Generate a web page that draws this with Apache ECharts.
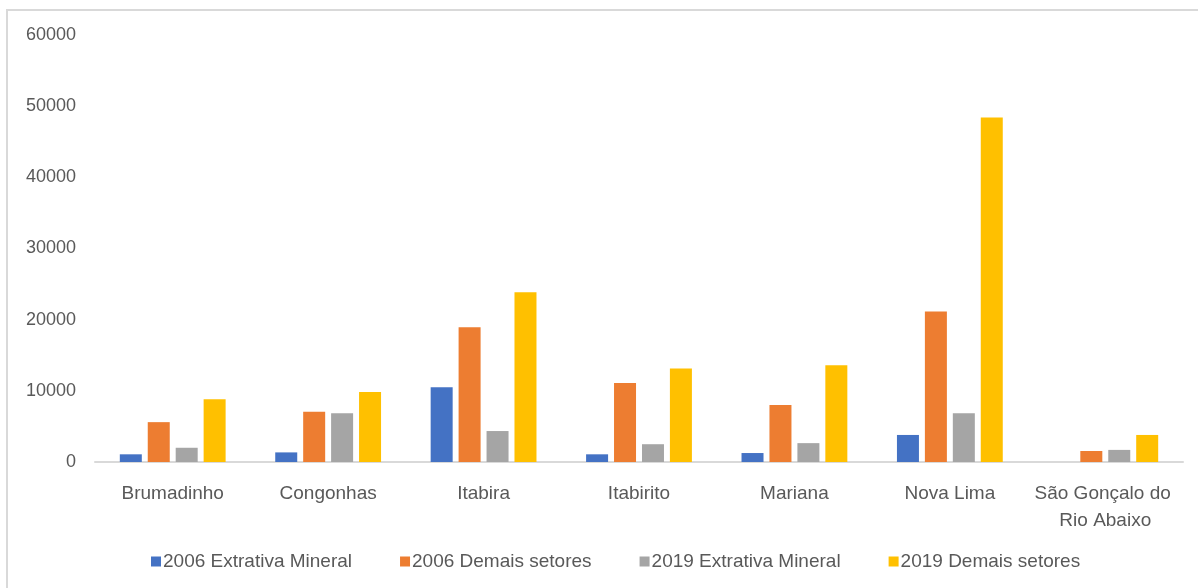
<!DOCTYPE html>
<html>
<head>
<meta charset="utf-8">
<script src="https://cdn.jsdelivr.net/npm/echarts@6/dist/echarts.min.js"></script>
<style>
  html, body { margin: 0; padding: 0; background: #fff; }
  #chart { width: 1198px; height: 588px; }
</style>
</head>
<body>
<div id="chart"></div>
<script>
// Municípios
const categories = ['Brumadinho', 'Congonhas', 'Itabira', 'Itabirito', 'Mariana', 'Nova Lima', 'São Gonçalo do Rio Abaixo'];

// Series values
const extrativa2006 = [1080, 1350, 10500, 1080, 1260, 3800, 0];
const demais2006    = [5600, 7050, 18950, 11100, 8000, 21150, 1550];
const extrativa2019 = [2000, 6850, 4350, 2500, 2650, 6850, 1700];
const demais2019    = [8800, 9850, 23850, 13150, 13600, 48400, 3800];

const seriesNames = ['2006 Extrativa Mineral', '2006 Demais setores', '2019 Extrativa Mineral', '2019 Demais setores'];
const seriesColors = ['#4472C4', '#ED7D31', '#A5A5A5', '#FFC000'];
const seriesData = [extrativa2006, demais2006, extrativa2019, demais2019];

// Y-axis ticks
const yMin = 0, yMax = 60000, yStep = 10000;

const textColor = '#595959';
const fontFamily = '"Liberation Sans", Arial, sans-serif';

const chart = echarts.init(document.getElementById('chart'), null, { renderer: 'canvas' });

chart.setOption({
  animation: false,
  backgroundColor: '#fff',
  textStyle: { fontFamily: fontFamily },
  graphic: [{
    type: 'rect',
    shape: { x: 7, y: 10, width: 1200, height: 600 },
    style: { fill: 'none', stroke: '#d9d9d9', lineWidth: 2 },
    silent: true
  }],
  grid: { left: 95, right: 15, top: 35, bottom: 126, containLabel: false },
  legend: {
    bottom: 12,
    left: 146,
    itemWidth: 10,
    itemHeight: 10,
    itemGap: 48,
    icon: 'rect',
    textStyle: { color: textColor, fontSize: 19, fontFamily: fontFamily, padding: [0, 0, 0, -3] },
    data: seriesNames
  },
  xAxis: {
    type: 'category',
    data: categories,
    axisLine: { show: true, lineStyle: { color: '#d9d9d9', width: 2 } },
    axisTick: { show: false },
    axisLabel: {
      interval: 0,
      color: textColor,
      fontSize: 19,
      fontFamily: fontFamily,
      margin: 18,
      lineHeight: 27,
      width: 162,
      overflow: 'break'
    }
  },
  yAxis: {
    type: 'value',
    min: yMin,
    max: yMax,
    interval: yStep,
    axisLine: { show: false },
    axisTick: { show: false },
    splitLine: { show: false },
    axisLabel: {
      color: textColor,
      fontSize: 18,
      fontFamily: fontFamily,
      margin: 19,
      formatter: v => String(v)
    }
  },
  series: seriesData.map((d, i) => ({
    name: seriesNames[i],
    type: 'bar',
    data: d,
    barWidth: 22,
    barGap: '27%',
    itemStyle: { color: seriesColors[i] }
  }))
});
</script>
</body>
</html>
